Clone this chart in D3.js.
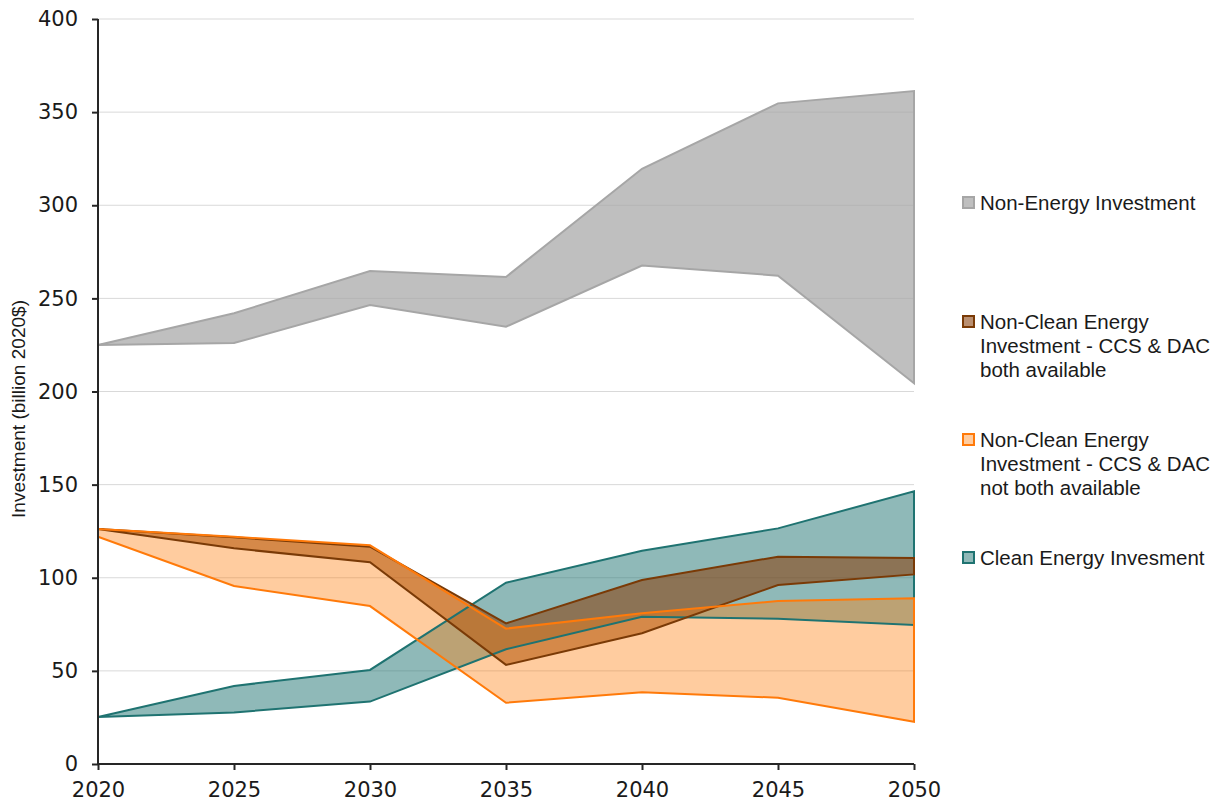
<!DOCTYPE html>
<html><head><meta charset="utf-8">
<script src="https://cdn.jsdelivr.net/npm/d3@7"></script>
<style>body{margin:0;background:#fff}</style>
</head><body><svg id="c" width="1228" height="803"></svg>
<script>
const years = [2020, 2025, 2030, 2035, 2040, 2045, 2050];
const yTicks = [0, 50, 100, 150, 200, 250, 300, 350, 400];
const nonEnergyHigh = [225, 242, 264.7, 261.5, 319.6, 354.7, 361.3];
const nonEnergyLow  = [225, 226, 246.4, 234.8, 267.6, 262.2, 204.4];
const cleanHigh = [25.2, 41.9, 50.5, 97.3, 114.5, 126.5, 146.4];
const cleanLow  = [25.2, 27.7, 33.5, 61.6, 79.1, 78.0, 74.6];
const bothHigh = [126.2, 121.7, 116.7, 75.5, 98.8, 111.3, 110.6];
const bothLow  = [126.2, 115.8, 108.3, 53.2, 70.2, 96.1, 101.8];
const notBothHigh = [126.2, 122.0, 117.4, 72.7, 80.9, 87.5, 89.0];
const notBothLow  = [122.0, 95.6, 84.8, 32.9, 38.5, 35.6, 22.7];
const legendLabels = [
  ["Non-Energy Investment"],
  ["Non-Clean Energy", "Investment - CCS & DAC", "both available"],
  ["Non-Clean Energy", "Investment - CCS & DAC", "not both available"],
  ["Clean Energy Invesment"]
];

const svg = d3.select("#c");
const x = d3.scaleLinear().domain([2020, 2050]).range([98, 914]);
const y = d3.scaleLinear().domain([0, 400]).range([764, 19]);

// gridlines
svg.append("g").selectAll("line").data(yTicks.filter(d => d > 0)).join("line")
  .attr("x1", 98).attr("x2", 914).attr("y1", d => y(d)).attr("y2", d => y(d))
  .attr("stroke", "#d9d9d9").attr("stroke-width", 1);

const series = [
  {hi: nonEnergyHigh, lo: nonEnergyLow, fill: "#a6a6a6", op: 0.72, stroke: "#a6a6a6"},
  {hi: cleanHigh, lo: cleanLow, fill: "#1f7371", op: 0.5, stroke: "#1f7371"},
  {hi: bothHigh, lo: bothLow, fill: "#8b4513", op: 0.6, stroke: "#7a3a06"},
  {hi: notBothHigh, lo: notBothLow, fill: "#ff7f0e", op: 0.4, stroke: "#ff7a0a"}
];

const area = d3.area().x((d, i) => x(years[i])).y0(d => y(d[0])).y1(d => y(d[1]));
series.forEach(s => {
  const data = years.map((yr, i) => [s.lo[i], s.hi[i]]);
  svg.append("path").datum(data).attr("d", area)
    .attr("fill", s.fill).attr("fill-opacity", s.op).attr("stroke", "none");
});
series.forEach(s => {
  const pts = years.map((yr, i) => [x(yr), y(s.hi[i])])
    .concat(years.map((yr, i) => [x(yr), y(s.lo[i])]).reverse());
  svg.append("path").attr("d", "M" + pts.map(p => p.join(",")).join("L") + "Z")
    .attr("fill", "none").attr("stroke", s.stroke).attr("stroke-width", 2).attr("stroke-linejoin", "miter");
});

// axes
const yAxis = d3.axisLeft(y).tickValues(yTicks).tickSize(6).tickPadding(14);
const gy = svg.append("g").attr("transform", "translate(98,0)").call(yAxis);
const xAxis = d3.axisBottom(x).tickValues(years).tickFormat(d3.format("d")).tickSize(6).tickPadding(12);
const gx = svg.append("g").attr("transform", "translate(0,764)").call(xAxis);
[gx, gy].forEach(g => {
  g.select(".domain").attr("stroke", "#262626").attr("stroke-width", 2);
  g.selectAll(".tick line").attr("stroke", "#262626").attr("stroke-width", 2);
  g.selectAll(".tick text").attr("fill", "#1a1a1a").style("font-family", "DejaVu Sans").style("font-size", "21px");
});
gx.select(".domain").attr("d", "M98,0H914");
gy.select(".domain").attr("d", "M0,764V19");

svg.append("text").attr("transform", "translate(25,409) rotate(-90)")
  .attr("text-anchor", "middle").attr("fill", "#1a1a1a")
  .style("font-family", "Liberation Sans").style("font-size", "19px")
  .attr("textLength", 218).attr("lengthAdjust", "spacingAndGlyphs")
  .text("Investment (billion 2020$)");

// legend
const legY = [203, 322, 440, 558];
const sw = [
  {fill: "#bfbfbf", stroke: "#a6a6a6"},
  {fill: "#b98f71", stroke: "#7a3a06"},
  {fill: "#ffcc9f", stroke: "#ff7a0a"},
  {fill: "#8fb9b8", stroke: "#1f7371"}
];
legendLabels.forEach((lines, k) => {
  svg.append("rect").attr("x", 963).attr("y", legY[k] - 6).attr("width", 11).attr("height", 11)
    .attr("fill", sw[k].fill).attr("stroke", sw[k].stroke).attr("stroke-width", 2);
  lines.forEach((ln, j) => svg.append("text").attr("x", 980).attr("y", legY[k] + 7 + j * 24)
    .attr("fill", "#1a1a1a").style("font-family", "Liberation Sans").style("font-size", "20.5px").text(ln));
});
</script></body></html>
